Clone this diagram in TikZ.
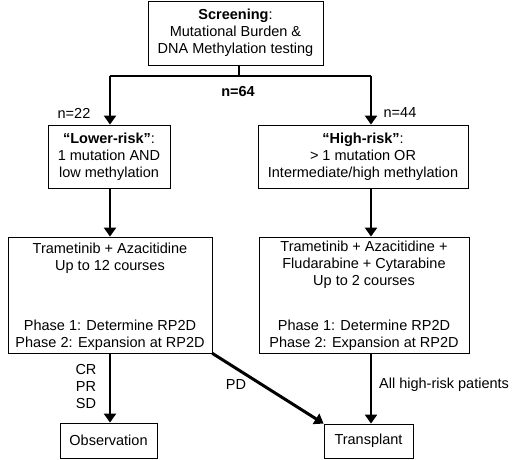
\documentclass[tikz,border=0pt]{standalone}
\usepackage{fontspec}
\setmainfont{Liberation Sans}
\usetikzlibrary{arrows.meta}
\begin{document}
\begin{tikzpicture}[x=1pt,y=-1pt,
  box/.style={draw, line width=0.8pt, inner sep=0pt, align=center, font=\fontsize{14.5}{17}\selectfont},
  arr/.style={line width=2.2pt, -{Triangle[length=9pt,width=12pt]}},
  lab/.style={font=\fontsize{14.5}{17}\selectfont, inner sep=0pt, align=center}]
\useasboundingbox (0,0) rectangle (520,460);
\node[box, minimum width=175pt, minimum height=64pt] (scr) at (235.5,33) {\textbf{Screening}:\\Mutational Burden \&\\DNA Methylation testing};
\node[box, minimum width=122pt, minimum height=63pt] (low) at (109,156.5) {\textbf{“Lower-risk”}:\\1 mutation AND\\low methylation};
\node[box, minimum width=210pt, minimum height=63pt] (high) at (363,156.5) {\textbf{“High-risk”}:\\> 1 mutation OR\\Intermediate/high methylation};
\node[box, minimum width=204pt, minimum height=116pt] (tl) at (110,295) {};
\node[lab, anchor=north] (tlt) at (110,243) {Trametinib + Azacitidine\\Up to 12 courses};
\node[lab, anchor=south] (tlb) at (110,351) {Phase 1: Determine RP2D\\Phase 2: Expansion at RP2D};
\node[box, minimum width=210pt, minimum height=116pt] (tr) at (364,295) {};
\node[lab, anchor=north] (trt) at (364,241) {Trametinib + Azacitidine +\\Fludarabine + Cytarabine\\Up to 2 courses};
\node[lab, anchor=south] (trb) at (364,351) {Phase 1: Determine RP2D\\Phase 2: Expansion at RP2D};
\node[box, minimum width=97pt, minimum height=35pt] (obs) at (108.5,440.5) {Observation};
\node[box, minimum width=89pt, minimum height=34pt] (tx) at (368.5,441) {Transplant};
\coordinate (j) at (239,76);
\coordinate (jl) at (110,76);
\coordinate (jr) at (371,76);
\draw[line width=2.2pt] (scr.south -| j) -- (j);
\draw[line width=2.2pt] (jl) -- (jr);
\draw[arr] (jl) -- (low.north -| jl);
\draw[arr] (jr) -- (high.north -| jr);
\draw[arr] (low.south -| jl) -- (tl.north -| jl);
\draw[arr] (high.south -| jr) -- (tr.north -| jr);
\draw[arr] (tl.south -| jl) -- (obs.north -| jl);
\draw[arr] (tr.south -| jr) -- (tx.north -| jr);
\draw[arr, line width=3pt] (tl.south east) -- (tx.north west);
\node[lab, font=\bfseries\fontsize{14.5}{17}\selectfont] (n64) at (238,92) {n=64};
\node[lab] (n22) at (74,113) {n=22};
\node[lab] (n44) at (400,113) {n=44};
\node[lab] (crpr) at (86,387) {CR\\PR\\SD};
\node[lab] (pd) at (236,385) {PD};
\node[lab, anchor=west] (all) at (379,385) {All high-risk patients};
\end{tikzpicture}
\end{document}
